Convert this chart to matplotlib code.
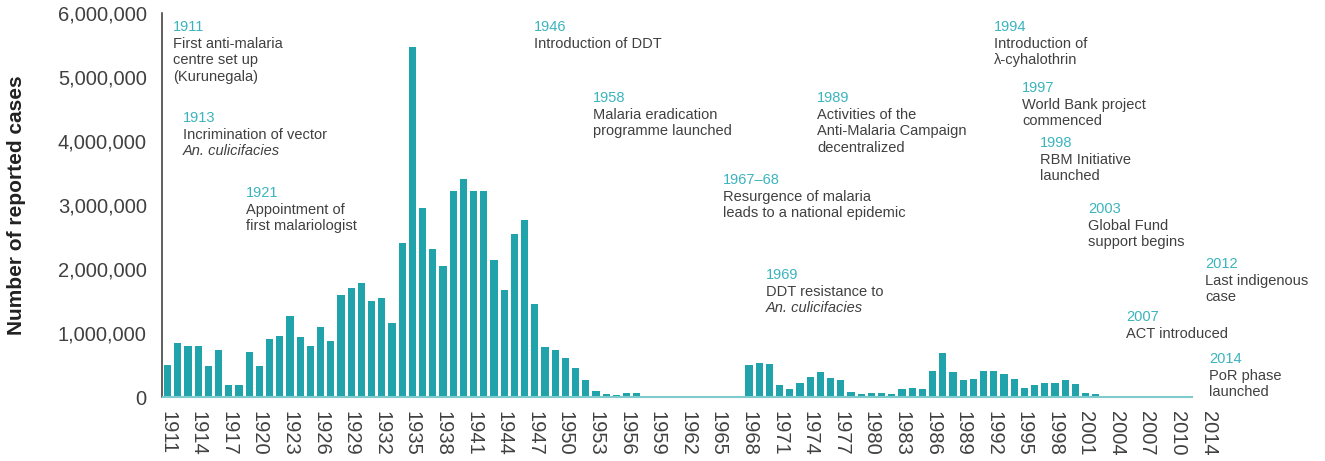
import matplotlib
matplotlib.use("Agg")
import matplotlib.pyplot as plt
from matplotlib.ticker import FuncFormatter

plt.rcParams['font.family'] = ['Liberation Sans', 'DejaVu Sans']

# reported malaria cases, Sri Lanka, 1911-2011
years = list(range(1911, 2012))
cases = [
    505000, 850000, 800000, 800000, 480000, 730000, 190000, 190000, 700000, 480000,   # 1911-1920
    910000, 960000, 1260000, 940000, 800000, 1100000, 875000, 1590000, 1710000, 1780000,  # 1921-1930
    1500000, 1550000, 1160000, 2410000, 5470000, 2950000, 2310000, 2050000, 3220000, 3410000,  # 1931-1940
    3220000, 3220000, 2140000, 1670000, 2550000, 2770000, 1450000, 780000, 730000, 610000,  # 1941-1950
    450000, 270000, 100000, 50000, 30000, 60000, 60000, 8000, 6000, 4000,   # 1951-1960
    3000, 2000, 1000, 2000, 2000, 3000, 3000, 500000, 530000, 520000,       # 1961-1970
    190000, 125000, 220000, 310000, 390000, 300000, 270000, 80000, 50000, 60000,  # 1971-1980
    60000, 50000, 125000, 140000, 125000, 410000, 690000, 390000, 270000, 280000,  # 1981-1990
    410000, 410000, 360000, 280000, 140000, 190000, 220000, 220000, 270000, 200000,  # 1991-2000
    60000, 45000, 15000, 4000, 2000, 1000, 500, 700, 600, 700,              # 2001-2010
    200,                                                                    # 2011
]

tick_years = [1911, 1914, 1917, 1920, 1923, 1926, 1929, 1932, 1935, 1938, 1941, 1944,
              1947, 1950, 1953, 1956, 1959, 1962, 1965, 1968, 1971, 1974, 1977, 1980,
              1983, 1986, 1989, 1992, 1995, 1998, 2001, 2004, 2007, 2010, 2013]
tick_labels = [str(y) for y in tick_years[:-1]] + ['2014']

y_ticks = [0, 1000000, 2000000, 3000000, 4000000, 5000000, 6000000]

# milestone notes: (year text, lines, italic flags, left px, baseline px)
notes = [
    ("1911", ["First anti-malaria", "centre set up", "(Kurunegala)"], [0, 0, 0], 173, 31),
    ("1913", ["Incrimination of vector", "An. culicifacies"], [0, 1], 183, 122),
    ("1921", ["Appointment of", "first malariologist"], [0, 0], 246, 197),
    ("1946", ["Introduction of DDT"], [0], 534, 31),
    ("1958", ["Malaria eradication", "programme launched"], [0, 0], 593, 102),
    ("1967\u201368", ["Resurgence of malaria", "leads to a national epidemic"], [0, 0], 723, 184),
    ("1969", ["DDT resistance to", "An. culicifacies"], [0, 1], 766, 279),
    ("1989", ["Activities of the", "Anti-Malaria Campaign", "decentralized"], [0, 0, 0], 817, 102),
    ("1994", ["Introduction of", "\u03bb-cyhalothrin"], [0, 0], 994, 31),
    ("1997", ["World Bank project", "commenced"], [0, 0], 1022, 92),
    ("1998", ["RBM Initiative", "launched"], [0, 0], 1040, 147),
    ("2003", ["Global Fund", "support begins"], [0, 0], 1088, 213),
    ("2012", ["Last indigenous", "case"], [0, 0], 1205, 268),
    ("2007", ["ACT introduced"], [0], 1126, 321),
    ("2014", ["PoR phase", "launched"], [0, 0], 1209, 363),
]

bar_color = '#20a3aa'
year_color = '#3bb4bd'
text_color = '#404040'

W, H = 1325, 461
fig = plt.figure(figsize=(W / 100, H / 100), dpi=100)

px_per_year = 10.2
x0, x1 = 1910.45, 2020.0
ax = fig.add_axes([162 / W, 1 - 397 / H, (x1 - x0) * px_per_year / W, 384 / H])

ax.bar(years, cases, width=0.72, color=bar_color, zorder=2)

ax.set_xlim(x0, x1)
ax.set_ylim(0, 6000000)

ax.spines['top'].set_visible(False)
ax.spines['right'].set_visible(False)
ax.spines['left'].set_color('#333333')
ax.spines['left'].set_linewidth(1.1)
ax.spines['bottom'].set_color('#7fcacd')
ax.spines['bottom'].set_linewidth(1.5)
ax.spines['bottom'].set_bounds(years[0] - 0.5, years[-1] + 0.4)

ax.set_yticks(y_ticks)
ax.yaxis.set_major_formatter(FuncFormatter(lambda v, p: '{:,}'.format(int(v))))
ax.set_xticks(tick_years)
ax.set_xticklabels(tick_labels, rotation=270, va='top', ha='center')
ax.tick_params(axis='both', length=0, labelsize=14.5, labelcolor=text_color)
ax.tick_params(axis='y', pad=11)
ax.tick_params(axis='x', pad=10)

fig.text(17 / W, 1 - 205 / H, "Number of reported cases", rotation=90,
         ha='center', va='center', fontsize=15, fontweight='bold', color='#222222')

line_h = 16.6
for yr, lines, ital, xp, yp in notes:
    fig.text(xp / W, 1 - yp / H, yr, color=year_color, fontsize=10.5,
             ha='left', va='baseline')
    for i, (ln, it) in enumerate(zip(lines, ital)):
        fig.text(xp / W, 1 - (yp + line_h * (i + 1)) / H, ln, color=text_color,
                 fontsize=10.5, ha='left', va='baseline',
                 style='italic' if it else 'normal')

fig.savefig('out.png', dpi=100)
